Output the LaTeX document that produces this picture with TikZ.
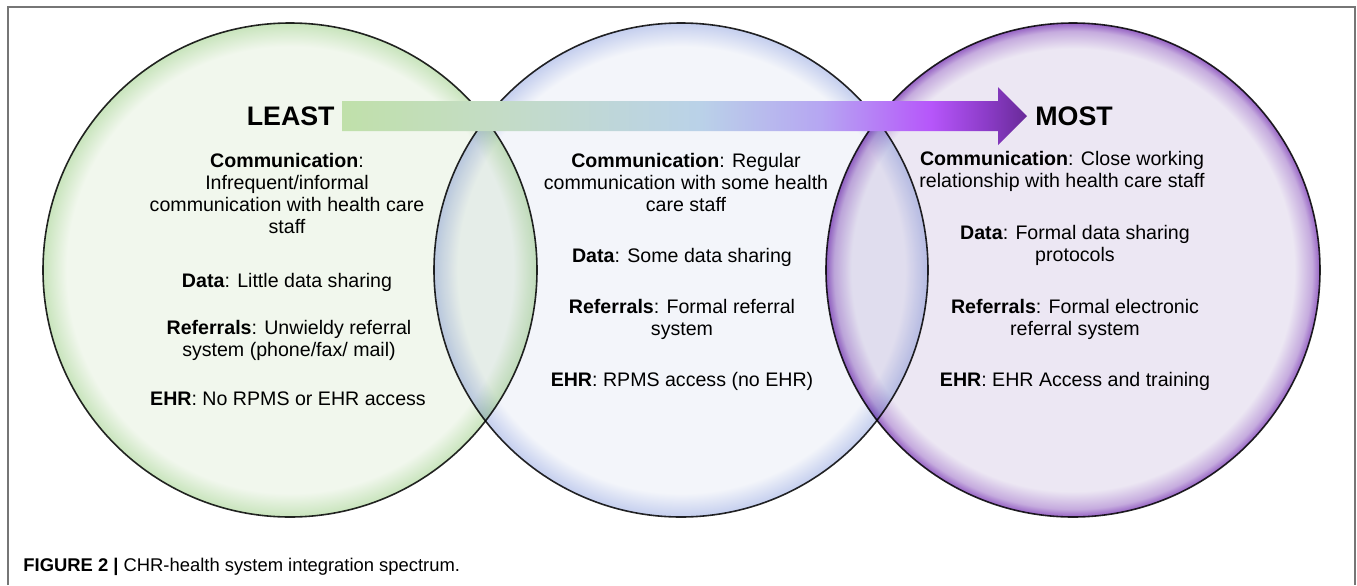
\documentclass[tikz,border=0pt]{standalone}
\usepackage{fontspec}
\setmainfont{Liberation Sans}
\usetikzlibrary{positioning}

\definecolor{leastfill}{RGB}{241,247,237}
\definecolor{leastrim}{RGB}{200,228,188}
\definecolor{midfill}{RGB}{243,245,250}
\definecolor{midrim}{RGB}{196,206,238}
\definecolor{mostfill}{RGB}{236,231,243}
\definecolor{mostrim}{RGB}{150,98,196}
\definecolor{framegray}{RGB}{118,118,118}
\definecolor{specA}{RGB}{192,224,170}
\definecolor{specB}{RGB}{196,220,198}
\definecolor{specC}{RGB}{186,210,232}
\definecolor{specD}{RGB}{182,166,242}
\definecolor{specE}{RGB}{182,86,250}
\definecolor{specF}{RGB}{140,60,200}
\definecolor{specG}{RGB}{104,42,152}

\pgfdeclareradialshading{leastball}{\pgfpointorigin}{color(0bp)=(leastfill); color(22.6bp)=(leastfill); color(25bp)=(leastrim); color(50bp)=(leastrim)}
\pgfdeclareradialshading{midball}{\pgfpointorigin}{color(0bp)=(midfill); color(22.6bp)=(midfill); color(25bp)=(midrim); color(50bp)=(midrim)}
\pgfdeclareradialshading{mostball}{\pgfpointorigin}{color(0bp)=(mostfill); color(22.4bp)=(mostfill); color(24.2bp)=(mostfill!55!mostrim); color(25bp)=(mostrim); color(50bp)=(mostrim)}
\pgfdeclarehorizontalshading{spectrum}{100bp}{color(0bp)=(specA); color(25bp)=(specA); color(36.5bp)=(specB); color(51bp)=(specC); color(60bp)=(specD); color(68bp)=(specE); color(72bp)=(specF); color(75bp)=(specG); color(100bp)=(specG)}

\begin{document}
\begin{tikzpicture}[x=0.5pt,y=0.5pt,
  ball/.style={circle,minimum size=247pt,inner sep=0pt,draw=black!85,line width=0.8pt,
    shade,shading=#1,blend mode=multiply},
  body/.style={font=\fontsize{9.8}{11}\selectfont,align=center,inner sep=0pt},
  endlabel/.style={font=\fontsize{13.4}{15}\selectfont\bfseries,inner sep=0pt}
  ]
  \useasboundingbox (0,0) rectangle (1357,-585);
  \draw[framegray,line width=1pt] (8,-585) |- (1355,-7) -- (1355,-585);

  \node[ball=leastball] (least) at (290,-270) {};
  \node[ball=midball] (mid) at (681,-270) {};
  \node[ball=mostball] (most) at (1073,-270) {};

  % spectrum arrow
  \coordinate (tail) at (342,-116);
  \coordinate (tip) at (1027,-116);
  \shade[shading=spectrum] (342,-101) -- (998,-101) -- (998,-87) -- (tip)
    -- (998,-145) -- (998,-131) -- (342,-131) -- cycle;
  \node[endlabel,left=3.5pt of tail] (leastlabel) {LEAST};
  \node[endlabel,right=4pt of tip] (mostlabel) {MOST};

  \node[body] (leastcomm) at (287,-193) {\textbf{Communication}:\\ Infrequent/informal\\ communication with health care\\ staff};
  \node[body] (leastdata) at (287,-282) {\textbf{Data}: Little data sharing};
  \node[body] (leastref) at (289,-340) {\textbf{Referrals}: Unwieldy referral\\ system (phone/fax/ mail)};
  \node[body] (leastehr) at (288,-399) {\textbf{EHR}: No RPMS or EHR access};

  \node[body] (midcomm) at (686,-182) {\textbf{Communication}: Regular\\ communication with some health\\ care staff};
  \node[body] (middata) at (682,-257) {\textbf{Data}: Some data sharing};
  \node[body] (midref) at (682,-319.5) {\textbf{Referrals}: Formal referral\\ system};
  \node[body] (midehr) at (682,-381) {\textbf{EHR}: RPMS access (no EHR)};

  \node[body] (mostcomm) at (1062,-171.5) {\textbf{Communication}: Close working\\ relationship with health care staff};
  \node[body] (mostdata) at (1075,-245.5) {\textbf{Data}: Formal data sharing\\ protocols};
  \node[body] (mostref) at (1075,-319.5) {\textbf{Referrals}: Formal electronic\\ referral system};
  \node[body] (mostehr) at (1075,-381) {\textbf{EHR}: EHR Access and training};

  \node[font=\fontsize{9.2}{11}\selectfont,inner sep=0pt,anchor=west] (caption) at (23,-567)
    {\textbf{FIGURE 2 |} CHR-health system integration spectrum.};
\end{tikzpicture}
\end{document}
